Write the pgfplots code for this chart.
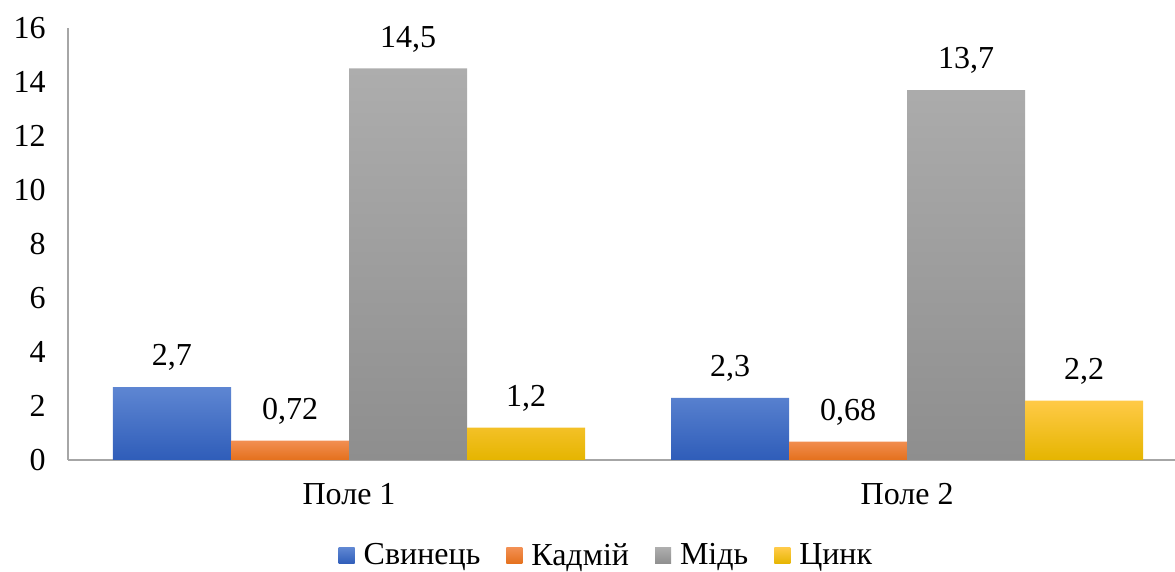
\documentclass[border=0pt]{standalone}
\usepackage{fontspec}
\setmainfont{Liberation Serif}
\usepackage{pgfplots}
\pgfplotsset{compat=1.18}
\definecolor{bTop}{HTML}{5E86D2}
\definecolor{bBot}{HTML}{2F5DB9}
\definecolor{oTop}{HTML}{F28F52}
\definecolor{oBot}{HTML}{E4701C}
\definecolor{gTop}{HTML}{ADADAD}
\definecolor{gBot}{HTML}{8E8E8E}
\definecolor{yTop}{HTML}{FFCA47}
\definecolor{yBot}{HTML}{E5B500}
\begin{document}
\begin{tikzpicture}[font=\rmfamily\fontsize{16}{19}\selectfont]
\path[use as bounding box] (0,0) rectangle (587.5pt,286pt);
\begin{axis}[
  at={(34pt,56pt)}, anchor=south west,
  scale only axis, width=553.5pt, height=216pt,
  xmin=-0.5036, xmax=1.48, ymin=0, ymax=16,
  ytick={0,2,...,16}, xtick={0,1}, xticklabels={Поле 1,Поле 2},
  axis x line*=bottom, axis y line*=left,
  axis line style={draw=black!35, line width=0.7pt},
  major tick length=0pt,
  /pgf/number format/.cd, use comma, 1000 sep={}, assume math mode=true,
  /pgfplots/.cd,
  yticklabel style={xshift=-7.7pt},
  xticklabel style={yshift=-8pt},
  ybar=0pt, bar width=0.2115,
  nodes near coords,
  nodes near coords style={anchor=south, inner sep=8pt},
  clip=false,
  legend style={at={(0.4855,-0.222)}, anchor=center, draw=none, fill=none,
    legend columns=-1, inner sep=0pt, nodes={inner sep=0pt},
    /tikz/every odd column/.append style={column sep=4.5pt},
    /tikz/every even column/.append style={column sep=13pt}},
  legend image code/.code={\path[#1, draw=none] (0pt,-4pt) rectangle (8pt,4pt);},
]
\addplot[bar shift=-0.31725, draw=none, top color=bTop, bottom color=bBot] coordinates {(0,2.7) (1,2.3)};
\addplot[bar shift=-0.10575, draw=none, top color=oTop, bottom color=oBot] coordinates {(0,0.72) (1,0.68)};
\addplot[bar shift=0.10575, draw=none, top color=gTop, bottom color=gBot] coordinates {(0,14.5) (1,13.7)};
\addplot[bar shift=0.31725, draw=none, top color=yTop, bottom color=yBot] coordinates {(0,1.2) (1,2.2)};
\legend{Свинець,Кадмій,Мідь,Цинк}
\end{axis}
\end{tikzpicture}
\end{document}
